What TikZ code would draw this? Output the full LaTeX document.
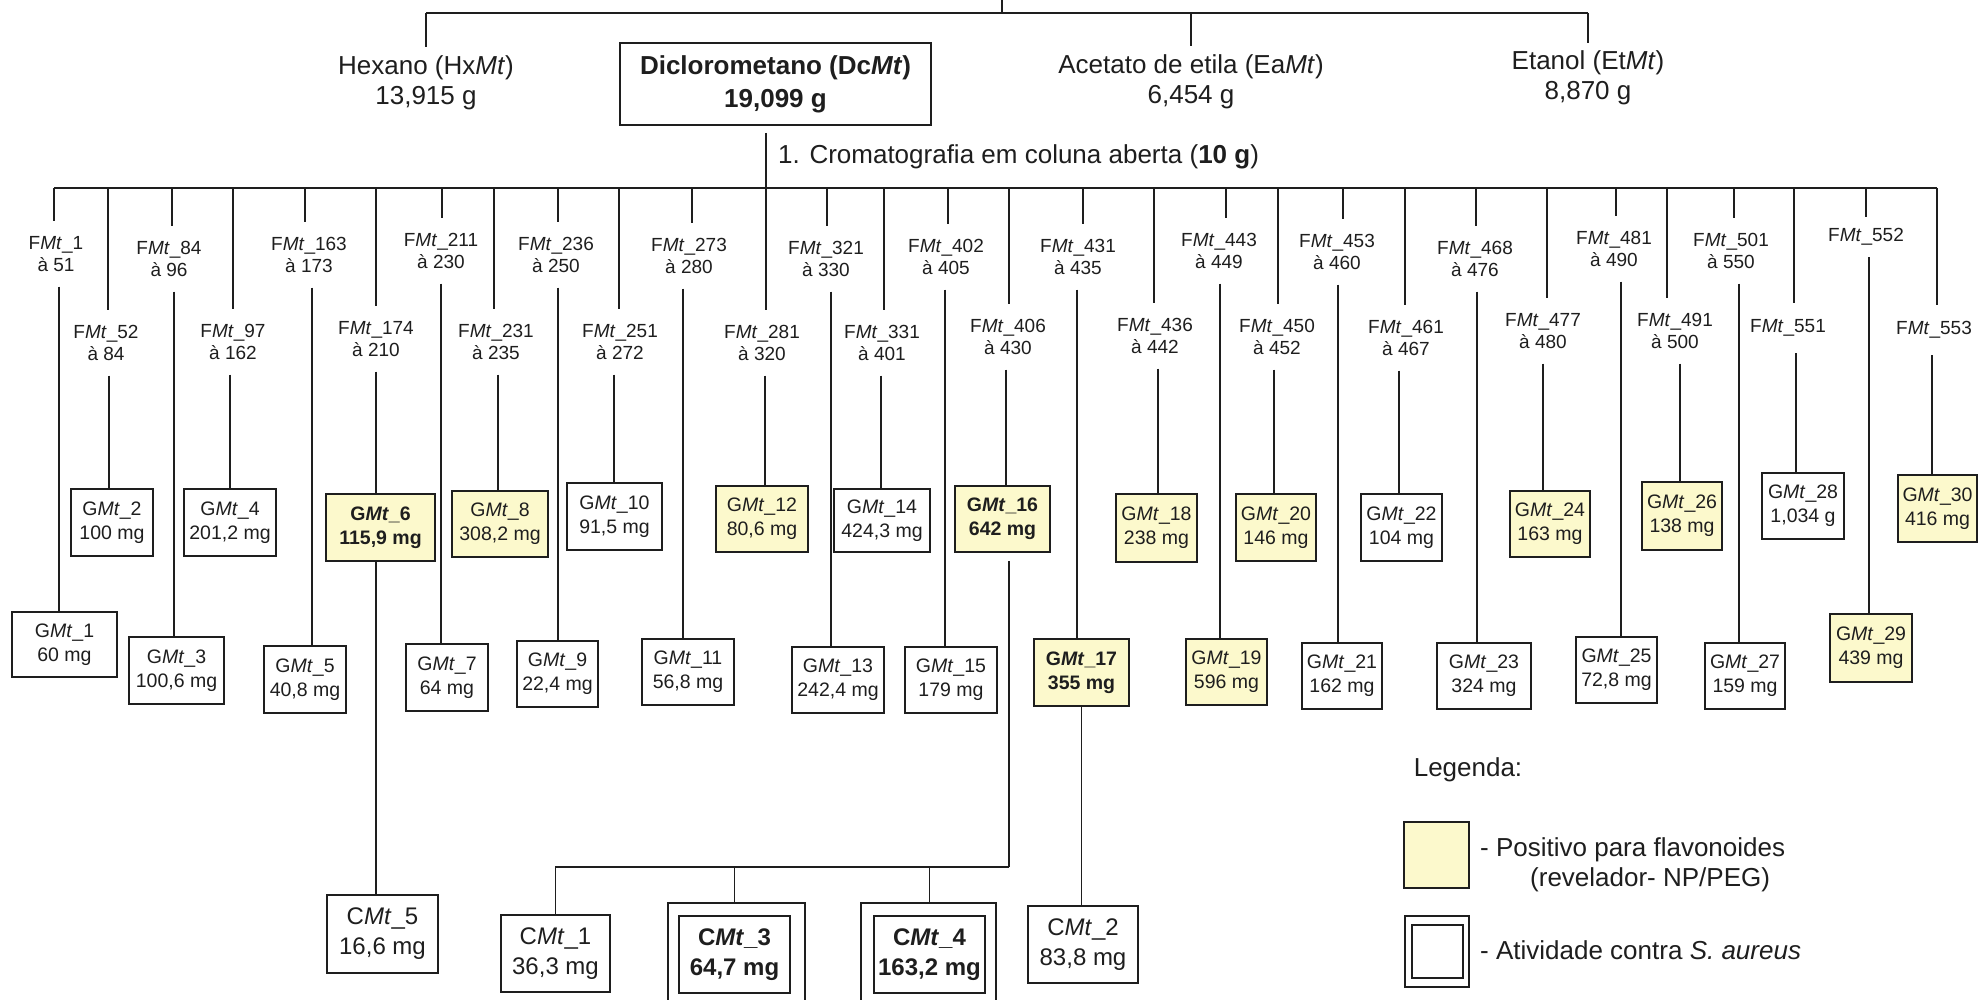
\documentclass[tikz,border=0pt]{standalone}
\usepackage{fontspec}
\setmainfont{Liberation Sans}
\usetikzlibrary{calc}
\definecolor{flav}{RGB}{252,249,204}
\definecolor{ln}{RGB}{30,30,30}
\newcommand\MtI{\textit{Mt}}
\tikzset{
  conn/.style={draw=ln, line width=1.5pt},
  flab/.style={font=\fontsize{19}{22}\selectfont, align=center, inner sep=0pt, text=ln},
  gbox/.style={draw=ln, line width=1.8pt, fill=white, font=\fontsize{19.5}{24}\selectfont, align=center, inner sep=0pt, text=ln},
  yel/.style={fill=flav},
  bld/.style={font=\fontsize{19.5}{24}\selectfont\bfseries},
  cbox/.style={draw=ln, line width=1.8pt, font=\fontsize{24}{30}\selectfont, align=center, inner sep=0pt, text=ln},
  toplab/.style={font=\fontsize{26}{30}\selectfont, align=center, inner sep=9pt, text=ln},
  leg/.style={font=\fontsize{26}{30}\selectfont, inner sep=0pt, anchor=west, text=ln},
}
\newcommand\fcol[7]{%
  \coordinate (t#1) at (#2,188);
  \coordinate (l#1) at (#3,0);
  \node[flab, minimum height=#6pt] (f#1) at (#4,#5) {#7};
  \draw[conn] (t#1) -- (t#1 |- f#1.north);
}
\newcommand\gb[7]{%
  \node[gbox,#6,minimum width=#4pt,minimum height=#5pt] (g#1) at (#2,#3) {#7};
  \draw[conn] (l#1 |- f#1.south) -- (l#1 |- g#1.north);
}
\begin{document}
\begin{tikzpicture}[x=1pt,y=-1pt]
\fill[white] (0,0) rectangle (1978,1000);
\useasboundingbox (0,0) rectangle (1978,1000);
% top level
\coordinate (root) at (1002,0);
\coordinate (tl) at (0,13);
\node[toplab] (hex) at (426,83) {Hexano (Hx\MtI)\\13,915 g};
\node[draw=ln, line width=1.8pt, font=\fontsize{26}{33}\selectfont\bfseries, align=center, inner sep=0pt, minimum width=311pt, minimum height=82pt, text=ln] (dc) at (775.5,84) {Diclorometano (Dc\MtI)\\19,099 g};
\node[toplab] (ea) at (1191,82) {Acetato de etila (Ea\MtI)\\6,454 g};
\node[toplab, inner sep=7pt] (et) at (1588,77.5) {Etanol (Et\MtI)\\8,870 g};
\draw[conn] (root) -- (root |- tl);
\draw[conn] (hex.north |- tl) -- (et.north |- tl);
\draw[conn] (hex.north |- tl) -- (hex.north);
\draw[conn] (ea.north |- tl) -- (ea.north);
\draw[conn] (et.north |- tl) -- (et.north);
% columns
\fcol{1}{54}{59}{56}{254}{65}{F\MtI\_1\\à 51}
\fcol{2}{108}{109}{106}{343}{65}{F\MtI\_52\\à 84}
\fcol{3}{172}{174}{169}{259}{65}{F\MtI\_84\\à 96}
\fcol{4}{233}{230}{233}{342}{65}{F\MtI\_97\\à 162}
\fcol{5}{305}{312}{309}{255}{65}{F\MtI\_163\\à 173}
\fcol{6}{376}{376}{376}{339}{65}{F\MtI\_174\\à 210}
\fcol{7}{442}{441}{441}{251}{65}{F\MtI\_211\\à 230}
\fcol{8}{494}{498}{496}{342}{65}{F\MtI\_231\\à 235}
\fcol{9}{558}{558}{556}{255}{65}{F\MtI\_236\\à 250}
\fcol{10}{619}{614}{620}{342}{65}{F\MtI\_251\\à 272}
\fcol{11}{692}{683}{689}{256}{65}{F\MtI\_273\\à 280}
\fcol{12}{766}{765}{762}{343}{65}{F\MtI\_281\\à 320}
\fcol{13}{827}{831}{826}{259}{65}{F\MtI\_321\\à 330}
\fcol{14}{884}{881}{882}{343}{65}{F\MtI\_331\\à 401}
\fcol{15}{948}{945}{946}{257}{65}{F\MtI\_402\\à 405}
\fcol{16}{1009}{1006}{1008}{337}{65}{F\MtI\_406\\à 430}
\fcol{17}{1083}{1077}{1078}{257}{65}{F\MtI\_431\\à 435}
\fcol{18}{1154}{1158}{1155}{336}{65}{F\MtI\_436\\à 442}
\fcol{19}{1226}{1220}{1219}{251}{65}{F\MtI\_443\\à 449}
\fcol{20}{1278}{1274}{1277}{337}{65}{F\MtI\_450\\à 452}
\fcol{21}{1343}{1338}{1337}{252}{65}{F\MtI\_453\\à 460}
\fcol{22}{1405}{1399}{1406}{338}{65}{F\MtI\_461\\à 467}
\fcol{23}{1476}{1477}{1475}{259}{65}{F\MtI\_468\\à 476}
\fcol{24}{1547}{1543}{1543}{331}{65}{F\MtI\_477\\à 480}
\fcol{25}{1616}{1621}{1614}{249}{65}{F\MtI\_481\\à 490}
\fcol{26}{1667}{1680}{1675}{331}{65}{F\MtI\_491\\à 500}
\fcol{27}{1734}{1739}{1731}{251}{65}{F\MtI\_501\\à 550}
\fcol{28}{1794}{1796}{1788}{328}{50}{F\MtI\_551}
\fcol{29}{1866}{1869}{1866}{237}{40}{F\MtI\_552}
\fcol{30}{1937}{1932}{1934}{330}{50}{F\MtI\_553}
\draw[conn] (t1) -- (t30);
\draw[conn, shorten <=7pt] (dc.south -| t12) -- (t12);
\node[font=\fontsize{26}{30}\selectfont, anchor=west, inner sep=0pt, text=ln] (cc) at (778,157) {1. Cromatografia em coluna aberta (\textbf{10 g})};
% G boxes
\gb{1}{64.5}{644.5}{105}{65}{}{G\MtI\_1\\60 mg}
\gb{2}{112}{522.5}{82}{67}{}{G\MtI\_2\\100 mg}
\gb{3}{176.5}{670.5}{95}{67}{}{G\MtI\_3\\100,6 mg}
\gb{4}{230}{522.5}{92}{67}{}{G\MtI\_4\\201,2 mg}
\gb{5}{305}{679.5}{82}{67}{}{G\MtI\_5\\40,8 mg}
\gb{6}{380.5}{527.5}{109}{67}{yel,bld}{G\MtI\_6\\115,9 mg}
\gb{7}{447}{677.5}{82}{67}{}{G\MtI\_7\\64 mg}
\gb{8}{500}{524}{96}{66}{yel}{G\MtI\_8\\308,2 mg}
\gb{9}{557.5}{674}{81}{66}{}{G\MtI\_9\\22,4 mg}
\gb{10}{614.5}{516.5}{95}{67}{}{G\MtI\_10\\91,5 mg}
\gb{11}{688}{672}{92}{66}{}{G\MtI\_11\\56,8 mg}
\gb{12}{762}{519}{92}{66}{yel}{G\MtI\_12\\80,6 mg}
\gb{13}{838}{680}{92}{66}{}{G\MtI\_13\\242,4 mg}
\gb{14}{882}{520.5}{96}{63}{}{G\MtI\_14\\424,3 mg}
\gb{15}{951}{680}{92}{66}{}{G\MtI\_15\\179 mg}
\gb{16}{1002.5}{519}{95}{66}{yel,bld}{G\MtI\_16\\642 mg}
\gb{17}{1081.5}{672.5}{95}{67}{yel,bld}{G\MtI\_17\\355 mg}
\gb{18}{1156.5}{528}{81}{68}{yel}{G\MtI\_18\\238 mg}
\gb{19}{1226.5}{672}{81}{66}{yel}{G\MtI\_19\\596 mg}
\gb{20}{1276}{527.5}{80}{67}{yel}{G\MtI\_20\\146 mg}
\gb{21}{1342}{676}{80}{66}{}{G\MtI\_21\\162 mg}
\gb{22}{1401.5}{527.5}{81}{67}{}{G\MtI\_22\\104 mg}
\gb{23}{1484}{676}{94}{66}{}{G\MtI\_23\\324 mg}
\gb{24}{1550}{524}{80}{66}{yel}{G\MtI\_24\\163 mg}
\gb{25}{1616.5}{670}{81}{66}{}{G\MtI\_25\\72,8 mg}
\gb{26}{1682}{516}{80}{68}{yel}{G\MtI\_26\\138 mg}
\gb{27}{1745}{676}{80}{66}{}{G\MtI\_27\\159 mg}
\gb{28}{1803}{506}{82}{66}{}{G\MtI\_28\\1,034 g}
\gb{29}{1871}{648}{82}{68}{yel}{G\MtI\_29\\439 mg}
\gb{30}{1937.5}{508.5}{79}{67}{yel}{G\MtI\_30\\416 mg}
% C boxes
\node[cbox, minimum width=111pt, minimum height=78pt] (cm5) at (382.5,934) {C\MtI\_5\\16,6 mg};
\node[cbox, minimum width=109pt, minimum height=77pt] (cm1) at (555.5,953.5) {C\MtI\_1\\36,3 mg};
\node[cbox, minimum width=111pt, minimum height=77pt, font=\fontsize{24}{30}\selectfont\bfseries] (cm3) at (734.5,954.5) {C\MtI\_3\\64,7 mg};
\node[cbox, minimum width=111pt, minimum height=77pt, font=\fontsize{24}{30}\selectfont\bfseries] (cm4) at (929.5,954.5) {C\MtI\_4\\163,2 mg};
\node[cbox, minimum width=110pt, minimum height=77pt] (cm2) at (1083,944.5) {C\MtI\_2\\83,8 mg};
\draw[line width=1.8pt, draw=ln] ($(cm3.south west)+(-10,8)$) |- ($(cm3.north east)+(14,-12)$) -- ($(cm3.south east)+(14,8)$);
\draw[line width=1.8pt, draw=ln] ($(cm4.south west)+(-12,8)$) |- ($(cm4.north east)+(10,-12)$) -- ($(cm4.south east)+(10,8)$);
\draw[conn] (g6.south -| l6) -- (l6 |- cm5.north);
\coordinate (j16) at (1009,867);
\draw[conn, shorten <=8pt] (g16.south -| j16) -- (j16);
\draw[conn] (j16) -- (j16 -| cm1.north) -- (cm1.north);
\draw[conn] (j16 -| cm3.north) -- ($(cm3.north)+(0,-12)$);
\draw[conn] (j16 -| cm4.north) -- ($(cm4.north)+(0,-12)$);
\draw[conn] (g17.south) -- (g17.south |- cm2.north);
% legend
\node[leg, anchor=center] (lg) at (1468,770) {Legenda:};
\node[draw=ln, line width=1.8pt, fill=flav, minimum width=65pt, minimum height=66pt, inner sep=0pt] (ly) at (1436.5,855) {};
\node[leg] (lt1) at (1480,850) {- Positivo para flavonoides};
\node[leg] (lt2) at (1530,880) {(revelador- NP/PEG)};
\node[draw=ln, line width=1.8pt, minimum width=64pt, minimum height=71pt, inner sep=0pt] (ld) at (1437,951.5) {};
\node[draw=ln, line width=1.8pt, minimum width=51pt, minimum height=53pt, inner sep=0pt] (ldi) at (1437.5,951.5) {};
\node[leg] (lt3) at (1480,950) {- Atividade contra \textit{S. aureus}};
\end{tikzpicture}
\end{document}
